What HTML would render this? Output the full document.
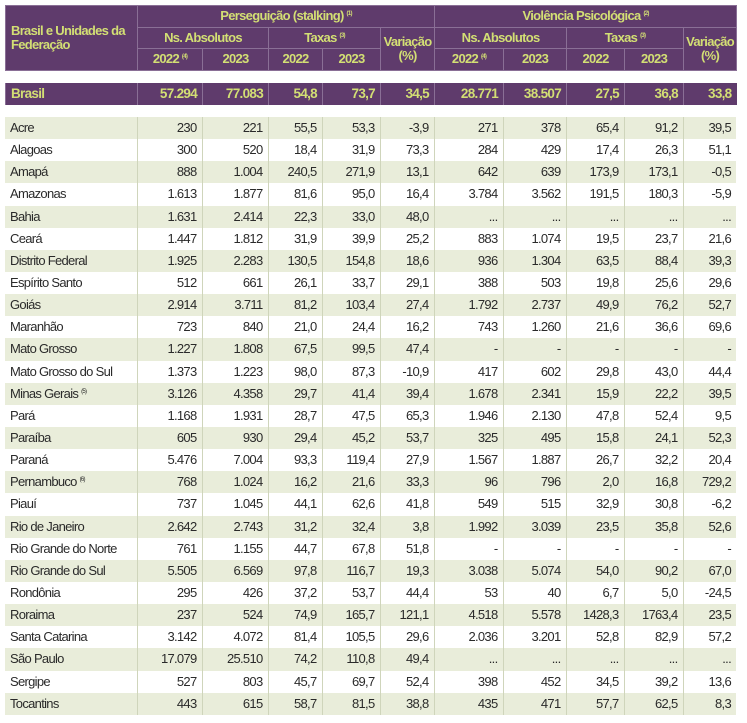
<!DOCTYPE html>
<html><head><meta charset="utf-8"><style>
body{margin:0;background:#fff;width:747px;height:723px;overflow:hidden;font-family:"Liberation Sans Narrow","Liberation Sans",sans-serif;}
table{position:absolute;left:5px;width:731px;border-collapse:collapse;table-layout:fixed;}
td{padding:0 5px;font-size:13px;letter-spacing:-0.7px;line-height:14px;color:#2a2a2a;text-align:right;white-space:nowrap;overflow:hidden;border-left:1.5px solid #cfd5bb;}
td:first-child{text-align:left;border-left:none;}
.h td{background:#5f3b6c;color:#d3df74;font-weight:bold;text-align:center;border:1.5px solid #8a6f96;height:20.5px;padding:0 2px;}
.h td.l{text-align:left;white-space:normal;padding-left:5px;}
sup{font-size:6px;vertical-align:5px;line-height:0;}
.b td{background:#5f3b6c;color:#d3df74;font-weight:bold;height:22px;border-left:1.5px solid #8a6f96;font-size:13.5px;}
.d tr td{height:22.15px;padding-top:0;padding-bottom:0;}
.d tr:nth-child(odd) td{background:#e9edda;}
.d tr:nth-child(even) td{background:#fff;}
</style></head><body>
<table style="top:5px">
<colgroup><col style="width:132px"><col style="width:65px"><col style="width:66px"><col style="width:54px"><col style="width:58px"><col style="width:54px"><col style="width:69px"><col style="width:63px"><col style="width:58px"><col style="width:59px"><col style="width:53px"></colgroup>
<tr class="h"><td class="l" rowspan="3">Brasil e Unidades da Federação</td><td colspan="5">Perseguição (stalking) <sup>(1)</sup></td><td colspan="5">Violência Psicológica <sup>(2)</sup></td></tr>
<tr class="h"><td colspan="2">Ns. Absolutos</td><td colspan="2">Taxas <sup>(3)</sup></td><td rowspan="2">Variação<br>(%)</td><td colspan="2">Ns. Absolutos</td><td colspan="2">Taxas <sup>(3)</sup></td><td rowspan="2">Variação<br>(%)</td></tr>
<tr class="h"><td>2022 <sup>(4)</sup></td><td>2023</td><td>2022</td><td>2023</td><td>2022 <sup>(4)</sup></td><td>2023</td><td>2022</td><td>2023</td></tr>
</table>
<table style="top:83px">
<colgroup><col style="width:132px"><col style="width:65px"><col style="width:66px"><col style="width:54px"><col style="width:58px"><col style="width:54px"><col style="width:69px"><col style="width:63px"><col style="width:58px"><col style="width:59px"><col style="width:53px"></colgroup>
<tr class="b"><td>Brasil</td><td>57.294</td><td>77.083</td><td>54,8</td><td>73,7</td><td>34,5</td><td>28.771</td><td>38.507</td><td>27,5</td><td>36,8</td><td>33,8</td></tr>
</table>
<table class="d" style="top:117px">
<colgroup><col style="width:132px"><col style="width:65px"><col style="width:66px"><col style="width:54px"><col style="width:58px"><col style="width:54px"><col style="width:69px"><col style="width:63px"><col style="width:58px"><col style="width:59px"><col style="width:53px"></colgroup>
<tr><td>Acre</td><td>230</td><td>221</td><td>55,5</td><td>53,3</td><td>-3,9</td><td>271</td><td>378</td><td>65,4</td><td>91,2</td><td>39,5</td></tr>
<tr><td>Alagoas</td><td>300</td><td>520</td><td>18,4</td><td>31,9</td><td>73,3</td><td>284</td><td>429</td><td>17,4</td><td>26,3</td><td>51,1</td></tr>
<tr><td>Amapá</td><td>888</td><td>1.004</td><td>240,5</td><td>271,9</td><td>13,1</td><td>642</td><td>639</td><td>173,9</td><td>173,1</td><td>-0,5</td></tr>
<tr><td>Amazonas</td><td>1.613</td><td>1.877</td><td>81,6</td><td>95,0</td><td>16,4</td><td>3.784</td><td>3.562</td><td>191,5</td><td>180,3</td><td>-5,9</td></tr>
<tr><td>Bahia</td><td>1.631</td><td>2.414</td><td>22,3</td><td>33,0</td><td>48,0</td><td>...</td><td>...</td><td>...</td><td>...</td><td>...</td></tr>
<tr><td>Ceará</td><td>1.447</td><td>1.812</td><td>31,9</td><td>39,9</td><td>25,2</td><td>883</td><td>1.074</td><td>19,5</td><td>23,7</td><td>21,6</td></tr>
<tr><td>Distrito Federal</td><td>1.925</td><td>2.283</td><td>130,5</td><td>154,8</td><td>18,6</td><td>936</td><td>1.304</td><td>63,5</td><td>88,4</td><td>39,3</td></tr>
<tr><td>Espírito Santo</td><td>512</td><td>661</td><td>26,1</td><td>33,7</td><td>29,1</td><td>388</td><td>503</td><td>19,8</td><td>25,6</td><td>29,6</td></tr>
<tr><td>Goiás</td><td>2.914</td><td>3.711</td><td>81,2</td><td>103,4</td><td>27,4</td><td>1.792</td><td>2.737</td><td>49,9</td><td>76,2</td><td>52,7</td></tr>
<tr><td>Maranhão</td><td>723</td><td>840</td><td>21,0</td><td>24,4</td><td>16,2</td><td>743</td><td>1.260</td><td>21,6</td><td>36,6</td><td>69,6</td></tr>
<tr><td>Mato Grosso</td><td>1.227</td><td>1.808</td><td>67,5</td><td>99,5</td><td>47,4</td><td>-</td><td>-</td><td>-</td><td>-</td><td>-</td></tr>
<tr><td>Mato Grosso do Sul</td><td>1.373</td><td>1.223</td><td>98,0</td><td>87,3</td><td>-10,9</td><td>417</td><td>602</td><td>29,8</td><td>43,0</td><td>44,4</td></tr>
<tr><td>Minas Gerais <sup>(5)</sup></td><td>3.126</td><td>4.358</td><td>29,7</td><td>41,4</td><td>39,4</td><td>1.678</td><td>2.341</td><td>15,9</td><td>22,2</td><td>39,5</td></tr>
<tr><td>Pará</td><td>1.168</td><td>1.931</td><td>28,7</td><td>47,5</td><td>65,3</td><td>1.946</td><td>2.130</td><td>47,8</td><td>52,4</td><td>9,5</td></tr>
<tr><td>Paraíba</td><td>605</td><td>930</td><td>29,4</td><td>45,2</td><td>53,7</td><td>325</td><td>495</td><td>15,8</td><td>24,1</td><td>52,3</td></tr>
<tr><td>Paraná</td><td>5.476</td><td>7.004</td><td>93,3</td><td>119,4</td><td>27,9</td><td>1.567</td><td>1.887</td><td>26,7</td><td>32,2</td><td>20,4</td></tr>
<tr><td>Pernambuco <sup>(6)</sup></td><td>768</td><td>1.024</td><td>16,2</td><td>21,6</td><td>33,3</td><td>96</td><td>796</td><td>2,0</td><td>16,8</td><td>729,2</td></tr>
<tr><td>Piauí</td><td>737</td><td>1.045</td><td>44,1</td><td>62,6</td><td>41,8</td><td>549</td><td>515</td><td>32,9</td><td>30,8</td><td>-6,2</td></tr>
<tr><td>Rio de Janeiro</td><td>2.642</td><td>2.743</td><td>31,2</td><td>32,4</td><td>3,8</td><td>1.992</td><td>3.039</td><td>23,5</td><td>35,8</td><td>52,6</td></tr>
<tr><td>Rio Grande do Norte</td><td>761</td><td>1.155</td><td>44,7</td><td>67,8</td><td>51,8</td><td>-</td><td>-</td><td>-</td><td>-</td><td>-</td></tr>
<tr><td>Rio Grande do Sul</td><td>5.505</td><td>6.569</td><td>97,8</td><td>116,7</td><td>19,3</td><td>3.038</td><td>5.074</td><td>54,0</td><td>90,2</td><td>67,0</td></tr>
<tr><td>Rondônia</td><td>295</td><td>426</td><td>37,2</td><td>53,7</td><td>44,4</td><td>53</td><td>40</td><td>6,7</td><td>5,0</td><td>-24,5</td></tr>
<tr><td>Roraima</td><td>237</td><td>524</td><td>74,9</td><td>165,7</td><td>121,1</td><td>4.518</td><td>5.578</td><td>1428,3</td><td>1763,4</td><td>23,5</td></tr>
<tr><td>Santa Catarina</td><td>3.142</td><td>4.072</td><td>81,4</td><td>105,5</td><td>29,6</td><td>2.036</td><td>3.201</td><td>52,8</td><td>82,9</td><td>57,2</td></tr>
<tr><td>São Paulo</td><td>17.079</td><td>25.510</td><td>74,2</td><td>110,8</td><td>49,4</td><td>...</td><td>...</td><td>...</td><td>...</td><td>...</td></tr>
<tr><td>Sergipe</td><td>527</td><td>803</td><td>45,7</td><td>69,7</td><td>52,4</td><td>398</td><td>452</td><td>34,5</td><td>39,2</td><td>13,6</td></tr>
<tr><td>Tocantins</td><td>443</td><td>615</td><td>58,7</td><td>81,5</td><td>38,8</td><td>435</td><td>471</td><td>57,7</td><td>62,5</td><td>8,3</td></tr>
</table>
</body></html>
